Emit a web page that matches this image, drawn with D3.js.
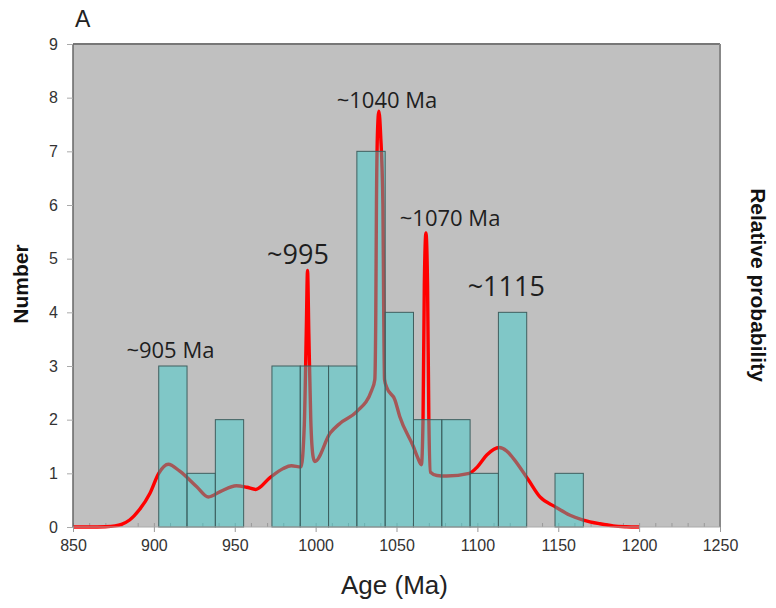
<!DOCTYPE html>
<html lang="en">
  <head>
    <meta charset="utf-8">
    <title>Age histogram</title>
    <script src="https://d3js.org/d3.v7.min.js"></script>
    <style>
      body { margin: 0; background: #fff; }
      .tick text { font: 16px "Liberation Sans", Arial, sans-serif; fill: #333; }
    </style>
  </head>
  <body>
    <div id="chart"></div>
    <script>
      var w = 776, h = 608;

      // histogram bins (Ma) and counts
      var binEdges = [903, 920.5, 938, 955.5, 973, 990.5, 1008, 1025.5, 1043, 1060.5, 1078, 1095.5, 1113, 1130.5, 1148, 1165.5];
      var counts   = [3, 1, 2, 0, 3, 3, 3, 7, 4, 2, 2, 1, 4, 0, 1];

      // probability curve, in "Number" units
      var curveAge = [850, 860, 870, 876, 880, 885, 891, 897.6, 903, 908.9, 916, 926.5, 933.7, 941, 951, 957.4, 963, 971.8, 980, 985, 991,
                      993, 994.2, 995, 995.8, 997, 998.5, 999.5, 1009, 1015, 1025.4, 1034.7, 1036.6, 1037.2, 1037.6, 1038.2, 1039.1,
                      1040.2, 1041.6, 1042.1, 1042.6, 1044, 1049, 1052, 1060.4, 1063, 1065.4, 1066.4, 1067.2, 1068.2, 1069.2, 1070,
                      1071, 1075, 1081, 1095, 1100, 1105.8, 1113.5, 1118, 1122.2, 1131.5, 1138.7, 1148, 1157.3, 1165.5, 1175.8, 1184, 1192, 1200];
      var curveVal = [0, 0, 0.005, 0.02, 0.05, 0.13, 0.32, 0.63, 1.0, 1.17, 1.04, 0.75, 0.56, 0.66, 0.77, 0.74, 0.70, 0.92, 1.09, 1.14, 1.12,
                      1.9, 3.6, 4.78, 3.6, 2.0, 1.3, 1.22, 1.75, 1.93, 2.15, 2.55, 2.75, 4.0, 6.0, 7.3, 7.75,
                      7.3, 6.0, 4.0, 2.75, 2.6, 2.37, 2.06, 1.5, 1.3, 1.16, 2.0, 4.5, 5.48, 4.5, 2.0,
                      1.02, 0.96, 0.95, 1.0, 1.12, 1.34, 1.48, 1.42, 1.28, 0.88, 0.56, 0.38, 0.22, 0.13, 0.06, 0.02, 0.005, 0];

      var peakLabels = ["~905 Ma", "~995", "~1040 Ma", "~1070 Ma", "~1115"];
      var peakAge    = [883, 970, 1013, 1052, 1094];
      var peakY      = [3.14, 4.9, 7.8, 5.6, 4.3];
      var peakSize   = [22, 27, 22, 22, 27];

      var xTicks = [850, 900, 950, 1000, 1050, 1100, 1150, 1200, 1250];
      var yTicks = [0, 1, 2, 3, 4, 5, 6, 7, 8, 9];

      var pLeft = 73, pRight = 720, pTop = 44, pBottom = 527;

      var svg = d3.select("#chart").append("svg")
                  .attr("width", w).attr("height", h);

      var xScale = d3.scaleLinear().domain([850, 1250]).range([pLeft, pRight]);
      var yScale = d3.scaleLinear().domain([0, 9]).range([pBottom, pTop]);

      // plot background
      svg.append("rect").attr("x", pLeft).attr("y", pTop)
         .attr("width", pRight - pLeft).attr("height", pBottom - pTop)
         .attr("fill", "#c0c0c0");

      // minor x ticks inside
      svg.append("g").attr("transform", `translate(0, ${pBottom})`)
         .call(d3.axisBottom(xScale).ticks(40).tickSize(-4).tickFormat(""))
         .call(g => g.select(".domain").remove())
         .selectAll("line").attr("stroke", "#999");

      // probability curve (under the bars)
      var pts = curveAge.map((a, i) => [a, curveVal[i]]);
      var line = d3.line().x(d => xScale(d[0])).y(d => yScale(d[1])).curve(d3.curveMonotoneX);
      svg.append("path").datum(pts).attr("d", line)
         .attr("fill", "none").attr("stroke", "#ff0000").attr("stroke-width", 3.4)
         .attr("stroke-linejoin", "round");

      // bars
      var bins = counts.map((c, i) => ({x0: binEdges[i], x1: binEdges[i + 1], n: c})).filter(d => d.n > 0);
      svg.append("g").selectAll("rect").data(bins).enter().append("rect")
         .attr("x", d => xScale(d.x0))
         .attr("y", d => yScale(d.n))
         .attr("width", d => xScale(d.x1) - xScale(d.x0))
         .attr("height", d => yScale(0) - yScale(d.n))
         .attr("fill", "rgb(40,210,210)").attr("fill-opacity", 0.42)
         .attr("stroke", "#3f5f5f").attr("stroke-width", 1);

      // frame
      svg.append("line").attr("x1", pLeft).attr("x2", pRight).attr("y1", pTop).attr("y2", pTop)
         .attr("stroke", "#777").attr("stroke-width", 2);
      svg.append("line").attr("x1", pLeft).attr("x2", pLeft).attr("y1", pTop).attr("y2", pBottom)
         .attr("stroke", "#666").attr("stroke-width", 1.5);
      svg.append("line").attr("x1", pRight).attr("x2", pRight).attr("y1", pTop).attr("y2", pBottom)
         .attr("stroke", "#888").attr("stroke-width", 2);
      svg.append("line").attr("x1", pLeft).attr("x2", pRight).attr("y1", pBottom).attr("y2", pBottom)
         .attr("stroke", "#aaa").attr("stroke-width", 1);

      // axes
      var xAxis = d3.axisBottom(xScale).tickValues(xTicks).tickFormat(d3.format("d"))
                    .tickSizeInner(5).tickSizeOuter(0).tickPadding(8);
      svg.append("g").attr("class", "xAxis").attr("transform", `translate(0, ${pBottom})`)
         .call(xAxis)
         .call(g => g.select(".domain").remove())
         .selectAll("line").attr("stroke", "#999");

      var yAxis = d3.axisLeft(yScale).tickValues(yTicks).tickSizeInner(6).tickSizeOuter(0).tickPadding(9);
      svg.append("g").attr("class", "yAxis").attr("transform", `translate(${pLeft}, 0)`)
         .call(yAxis)
         .call(g => g.select(".domain").remove())
         .selectAll("line").attr("stroke", "#aaa");

      // peak labels
      svg.append("g").selectAll("text").data(peakLabels).enter().append("text")
         .attr("x", (d, i) => xScale(peakAge[i]))
         .attr("y", (d, i) => yScale(peakY[i]))
         .attr("font-family", "'Open Sans', 'Noto Sans', sans-serif")
         .attr("font-size", (d, i) => peakSize[i])
         .attr("fill", "#1e1e1e")
         .text(d => d);

      // titles
      svg.append("text").attr("x", 75).attr("y", 27)
         .attr("font-family", "'Liberation Sans', Arial, sans-serif").attr("font-size", 23)
         .attr("fill", "#222").text("A");

      svg.append("text").attr("x", (pLeft + pRight) / 2 - 2).attr("y", 594)
         .attr("text-anchor", "middle")
         .attr("font-family", "'Liberation Sans', Arial, sans-serif").attr("font-size", 26)
         .attr("fill", "#222").text("Age (Ma)");

      svg.append("text").attr("transform", "translate(28, 284) rotate(-90)")
         .attr("text-anchor", "middle")
         .attr("font-family", "'Liberation Sans', Arial, sans-serif").attr("font-size", 21)
         .attr("font-weight", "bold").attr("fill", "#111").text("Number");

      svg.append("text").attr("transform", "translate(751, 285) rotate(90)")
         .attr("text-anchor", "middle")
         .attr("font-family", "'Liberation Sans', Arial, sans-serif").attr("font-size", 21)
         .attr("font-weight", "bold").attr("fill", "#111").text("Relative probability");
    </script>
  </body>
</html>
